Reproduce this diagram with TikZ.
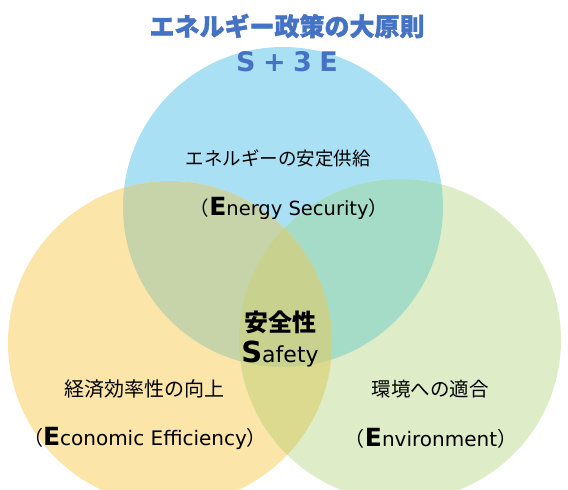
\documentclass[tikz,border=0pt]{standalone}
\usepackage{fontspec}
\setmainfont{DejaVu Sans}
\newfontfamily\jpfont{Noto Sans CJK JP}
\newfontfamily\jptitle[BoldFeatures={FakeBold=1.5}]{Noto Sans CJK JP}
\usetikzlibrary{positioning}
\definecolor{secblue}{HTML}{A9E0F4}
\definecolor{ecoyellow}{HTML}{FCE5A9}
\definecolor{envgreen}{HTML}{DEEDC7}
\definecolor{byover}{HTML}{C7D4AA}
\definecolor{bgover}{HTML}{A5DCC7}
\definecolor{ygover}{HTML}{DCDA8E}
\definecolor{allover}{HTML}{C8D28E}
\definecolor{titleblue}{HTML}{4472C4}

\begin{document}
\begin{tikzpicture}[x=1pt, y=-1pt,
  jplabel/.style={font=\jpfont\fontsize{20}{22}\selectfont, inner sep=0pt},
  enlabel/.style={font=\fontsize{20}{22}\selectfont, inner sep=0pt},
  title/.style={text=titleblue, inner sep=0pt},
]
  \useasboundingbox (0,0) rectangle (568,490);
  \clip (0,0) rectangle (568,490);

  % the three circles
  \coordinate (security)    at (283,207);
  \coordinate (economy)     at (170,343);
  \coordinate (environment) at (400,340);
  \fill[secblue]   (security)    circle (160pt);
  \fill[ecoyellow] (economy)     circle (162pt);
  \fill[envgreen]  (environment) circle (161pt);
  \begin{scope}
    \clip (security) circle (160pt);
    \fill[byover] (economy) circle (162pt);
    \fill[bgover] (environment) circle (161pt);
  \end{scope}
  \begin{scope}
    \clip (economy) circle (162pt);
    \fill[ygover] (environment) circle (161pt);
    \clip (environment) circle (161pt);
    \fill[allover] (security) circle (160pt);
  \end{scope}

  % title
  \node[title, font=\jptitle\bfseries\fontsize{25}{27}\selectfont] (head) at (287,26) {エネルギー政策の大原則};
  \node[title, font=\bfseries\fontsize{27}{29}\selectfont] (s3e) at (287,62) {S\;+\;3\;E};

  % labels
  \node[jplabel, font=\jpfont\fontsize{18.5}{20}\selectfont] (secjp) at (278,158) {エネルギーの安定供給};
  \node[enlabel, font=\fontsize{19.5}{21}\selectfont] (secen) at (289,208) {{\jpfont （}{\bfseries\fontsize{25}{26}\selectfont E}nergy Security{\jpfont ）}};

  \node[jplabel, font=\jpfont\bfseries\fontsize{24}{26}\selectfont] (safejp) at (280,322) {安全性};
  \node[enlabel, font=\fontsize{22}{24}\selectfont] (safeen) at (280,354) {{\bfseries\fontsize{29}{30}\selectfont S}afety};

  \node[jplabel] (ecojp) at (144,389) {経済効率性の向上};
  \node[enlabel] (ecoen) at (145,438) {{\jpfont （}{\bfseries\fontsize{25}{26}\selectfont E}conomic Efficiency{\jpfont ）}};

  \node[jplabel, font=\jpfont\fontsize{19.5}{21}\selectfont] (envjp) at (430,389) {環境への適合};
  \node[enlabel] (enven) at (431,438) {{\jpfont （}{\bfseries\fontsize{25}{26}\selectfont E}nvironment{\jpfont ）}};
\end{tikzpicture}
\end{document}
